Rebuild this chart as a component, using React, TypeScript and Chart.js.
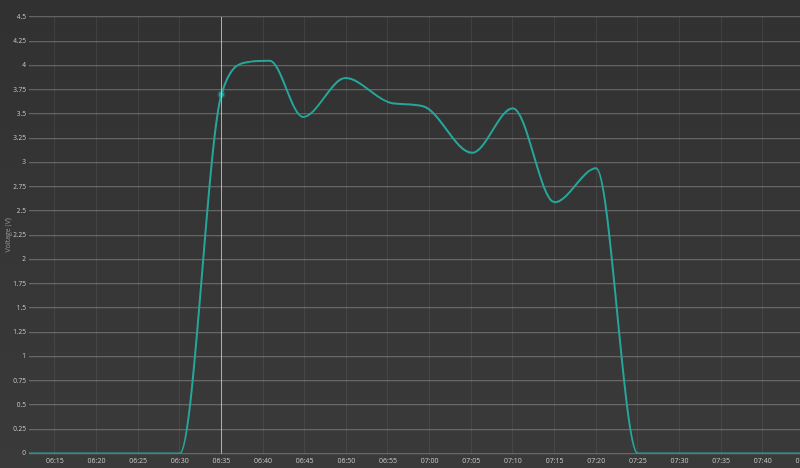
import React, { useEffect, useRef } from "react";
import { Chart, registerables } from "chart.js";

Chart.register(...registerables);

// time in minutes after 06:00
const times: number[] = [11.9, 20, 30, 35, 38.5, 40.8, 44.8, 49.9, 55.5, 59.2, 65.1, 70.0, 75.0, 80.0, 85.0, 95, 110];
const voltages: number[] = [0, 0, 0, 3.7, 4.04, 4.05, 3.47, 3.87, 3.61, 3.58, 3.1, 3.56, 2.59, 2.94, 0, 0, 0];
const hoverIndex = 3;
const xMin = 11.9;
const xMax = 110;
const yTicks: number[] = [0, 0.25, 0.5, 0.75, 1, 1.25, 1.5, 1.75, 2, 2.25, 2.5, 2.75, 3, 3.25, 3.5, 3.75, 4, 4.25, 4.5];
const yTitle = "Voltage (V)";

const pad = (n: number) => (n < 10 ? "0" + n : "" + n);
const fmtTime = (m: number) => {
  const total = 6 * 60 + Math.round(m);
  return pad(Math.floor(total / 60)) + ":" + pad(total % 60);
};

const TEAL = "rgb(38,166,154)";

const bgPlugin = {
  id: "bgPlugin",
  beforeDraw(chart: any) {
    const { ctx, width, height } = chart;
    ctx.save();
    const g = ctx.createLinearGradient(0, 0, 0, height);
    g.addColorStop(0, "#313131");
    g.addColorStop(1, "#3a3a3a");
    ctx.fillStyle = g;
    ctx.fillRect(0, 0, width, height);
    ctx.restore();
  },
};

const titlePlugin = {
  id: "yTitlePlugin",
  afterDraw(chart: any) {
    const { ctx, chartArea } = chart;
    ctx.save();
    ctx.translate(8, (chartArea.top + chartArea.bottom) / 2);
    ctx.rotate(-Math.PI / 2);
    ctx.fillStyle = "#9a9a9a";
    ctx.font = "7px 'Open Sans'";
    ctx.textAlign = "center";
    ctx.textBaseline = "middle";
    ctx.fillText(yTitle, 0, 0);
    ctx.restore();
  },
};

const crosshairPlugin = {
  id: "crosshairPlugin",
  afterDatasetsDraw(chart: any) {
    const meta = chart.getDatasetMeta(0);
    const pt = meta.data[hoverIndex];
    if (!pt) return;
    const { ctx, chartArea } = chart;
    ctx.save();
    ctx.strokeStyle = "rgba(220,220,220,0.7)";
    ctx.lineWidth = 1;
    const x = Math.round(pt.x) + 0.5;
    ctx.beginPath();
    ctx.moveTo(x, chartArea.top);
    ctx.lineTo(x, chartArea.bottom);
    ctx.stroke();
    ctx.restore();
  },
};

export default function App() {
  const ref = useRef<HTMLCanvasElement | null>(null);
  useEffect(() => {
    document.body.style.margin = "0";
    document.body.style.background = "#353535";
    if (!ref.current) return;
    const chart = new Chart(ref.current, {
      type: "line",
      data: {
        datasets: [
          {
            label: "Voltage",
            data: times.map((t, i) => ({ x: t, y: voltages[i] })),
            borderColor: TEAL,
            borderWidth: 2,
            cubicInterpolationMode: "monotone",
            fill: false,
            pointRadius: (c: any) => (c.dataIndex === hoverIndex ? 2.5 : 0),
            pointBackgroundColor: TEAL,
            pointBorderColor: "rgba(38,166,154,0.3)",
            pointBorderWidth: 3,
          },
        ],
      },
      options: {
        animation: false,
        responsive: true,
        maintainAspectRatio: false,
        layout: { padding: { top: 17, bottom: 0, left: 0, right: 0 } },
        plugins: { legend: { display: false }, tooltip: { enabled: false } },
        scales: {
          x: {
            type: "linear",
            min: xMin,
            max: xMax,
            border: { display: false },
            grid: { color: "rgba(255,255,255,0.07)", drawTicks: false },
            ticks: {
              stepSize: 5,
              includeBounds: false,
              autoSkip: false,
              maxRotation: 0,
              padding: 3,
              color: "#c8c8c8",
              font: { family: "Open Sans", size: 7 },
              callback: (v: any) => fmtTime(Number(v)),
            },
          },
          y: {
            type: "linear",
            min: 0,
            max: 4.5,
            border: { display: false },
            grid: { color: "rgba(255,255,255,0.24)", lineWidth: 1.2, drawTicks: false },
            afterBuildTicks: (axis: any) => {
              axis.ticks = yTicks.map((v) => ({ value: v }));
            },
            afterFit: (axis: any) => {
              axis.width = 29;
            },
            ticks: {
              padding: 3,
              color: "#c8c8c8",
              font: { family: "Open Sans", size: 6.5 },
              callback: (v: any) => String(v),
            },
          },
        },
      },
      plugins: [bgPlugin, crosshairPlugin, titlePlugin],
    } as any);
    return () => chart.destroy();
  }, []);
  return (
    <div style={{ width: 800, height: 468, overflow: "hidden", position: "relative" }}>
      <div style={{ width: 858, height: 468, position: "relative" }}>
        <canvas ref={ref} />
      </div>
    </div>
  );
}
